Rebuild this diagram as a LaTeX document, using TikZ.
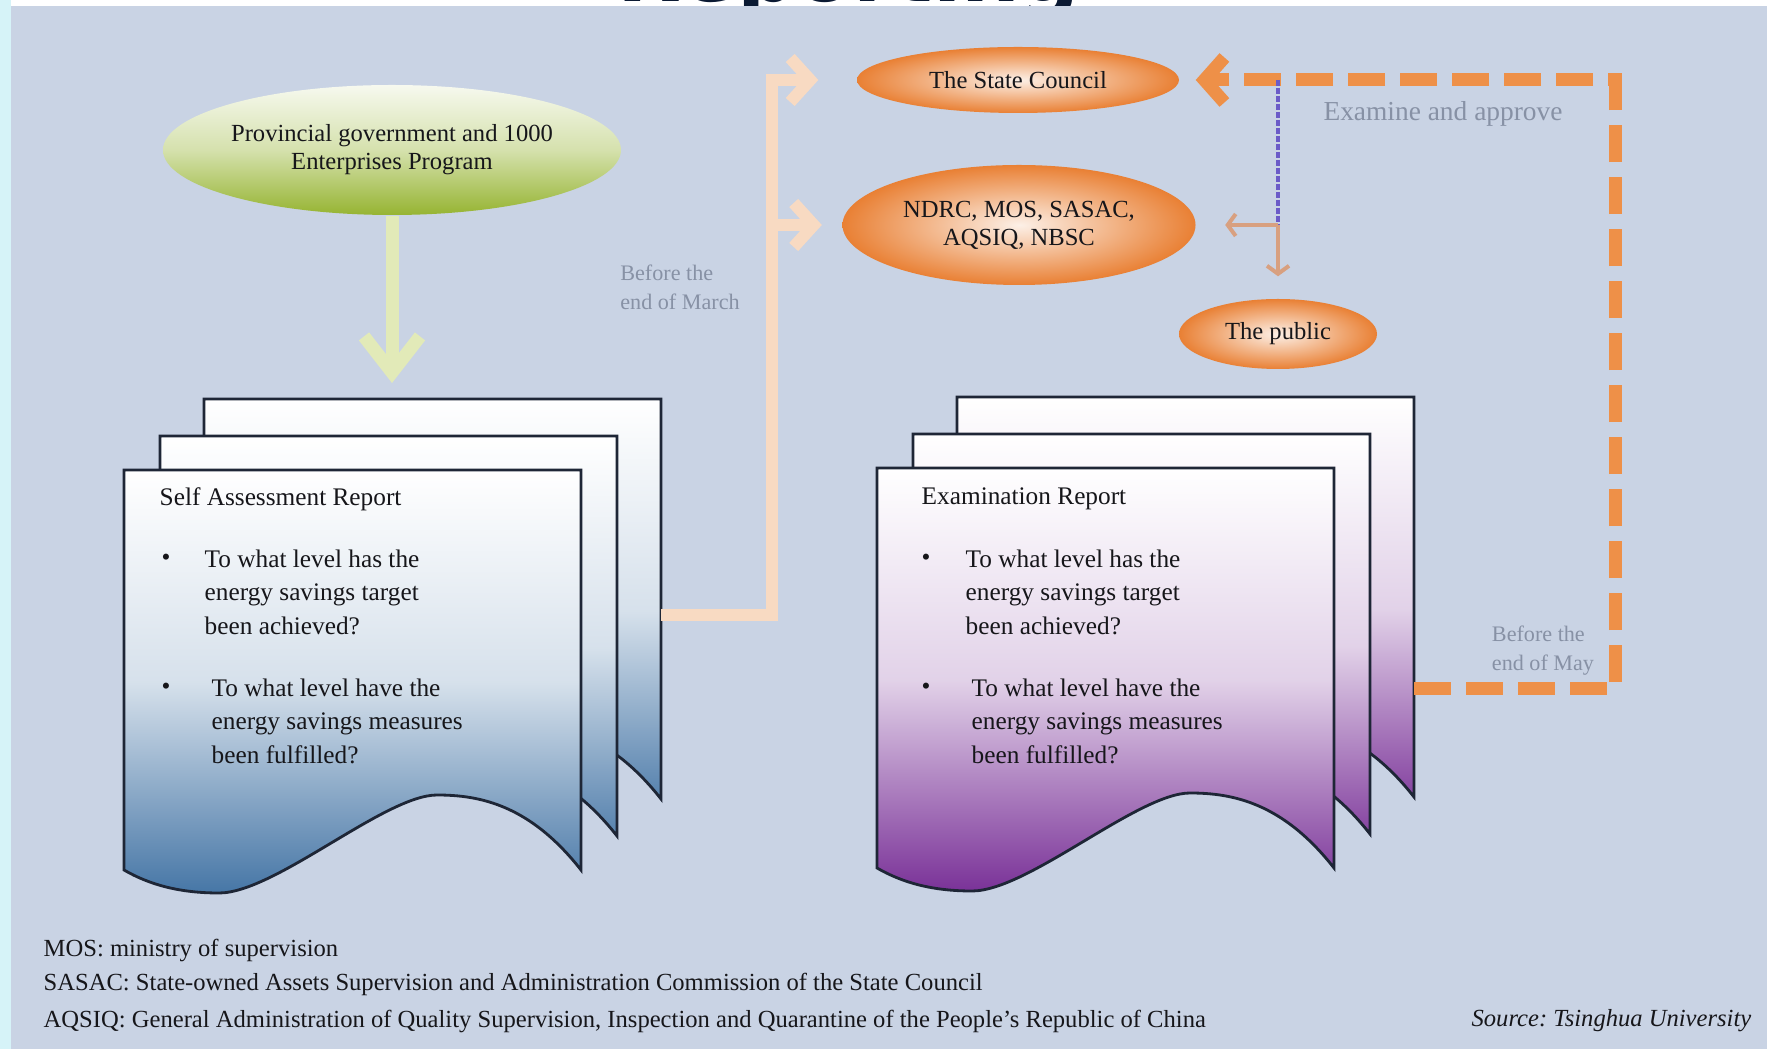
\documentclass[tikz,border=0pt]{standalone}
\usepackage{fontspec}
\setmainfont{Liberation Serif}
\newfontfamily\titlefont{DejaVu Sans}
\usetikzlibrary{arrows.meta,shapes.geometric}
\frenchspacing

\definecolor{panel}{RGB}{201,211,228}
\definecolor{edgecyan}{RGB}{214,243,248}
\definecolor{titleblue}{RGB}{11,26,51}
\definecolor{textdark}{RGB}{22,22,26}
\definecolor{labelgrey}{RGB}{135,145,165}
\definecolor{sheetline}{RGB}{30,38,54}
\definecolor{docblue}{RGB}{70,118,166}
\definecolor{docpurple}{RGB}{122,50,152}
\definecolor{ellorange}{RGB}{233,128,52}
\definecolor{ellgreen}{RGB}{150,180,50}
\definecolor{peach}{RGB}{248,218,194}
\definecolor{palegreen}{RGB}{226,234,184}
\definecolor{dashorange}{RGB}{238,144,72}
\definecolor{tan}{RGB}{216,160,128}
\definecolor{violetline}{RGB}{107,91,200}

\begin{document}
\begin{tikzpicture}[x=1cm,y=1cm,
    sheet/.style={draw=sheetline, line width=0.8pt},
    oval/.style={ellipse, inner sep=0pt, text=textdark, align=center, font=\fontsize{7}{8}\selectfont},
    orangeoval/.style={oval, inner color=ellorange!12!white, outer color=ellorange},
    bodytext/.style={inner sep=0pt, text=textdark, align=left, font=\fontsize{7.2}{9.6}\selectfont},
    greylabel/.style={inner sep=0pt, text=labelgrey, align=left},
    notetext/.style={inner sep=0pt, anchor=west, text=textdark, font=\fontsize{7}{8}\selectfont},
    peachline/.style={draw=peach, line width=0.12cm, -{Straight Barb[length=0.2cm,width=0.44cm]}},
    greenarrow/.style={draw=palegreen, line width=0.13cm, -{Straight Barb[length=0.36cm,width=0.56cm]}},
    orangedash/.style={draw=dashorange, line width=0.13cm, dash pattern=on 0.37cm off 0.15cm, -{Straight Barb[length=0.2cm,width=0.45cm]}},
    tanline/.style={draw=tan, line width=0.04cm, -{Straight Barb[length=0.08cm,width=0.22cm]}},
    purpleline/.style={draw=violetline, line width=0.035cm, dash pattern=on 0.06cm off 0.02cm}
  ]

  % background and page title
  \path[use as bounding box] (0,0) rectangle (17.67,-10.49);
  \fill[white] (0,0) rectangle (17.67,-10.49);
  \node[anchor=base west, inner sep=0pt, text=titleblue, font=\titlefont\bfseries\fontsize{23.5}{24}\selectfont] (title) at (6.17,-0.02) {Reporting};
  \fill[edgecyan] (0,0) rectangle (0.11,-10.49);
  \fill[panel] (0.11,-0.06) rectangle (17.67,-10.49);

  % report stacks
  \foreach \L/\T/\col in {1.24/-4.70/docblue, 8.77/-4.68/docpurple}
    \foreach \dx/\dy in {0.80/0.71, 0.36/0.34, 0/0}
      \draw[sheet, top color=white, bottom color=\col, middle color=\col!22!white, shift={(\L+\dx,\T+\dy)}]
        (0,0) -- (4.57,0) -- (4.57,-4.00)
        .. controls (4.06,-3.35) and (3.56,-3.25) .. (3.13,-3.25)
        .. controls (2.61,-3.25) and (1.51,-4.23) .. (0.95,-4.23)
        .. controls (0.56,-4.23) and (0.26,-4.15) .. (0,-4.00) -- cycle;

  \node[bodytext, anchor=west] (selfTitle) at (1.59,-4.99) {Self Assessment Report};
  \node[bodytext] (selfDotA) at (1.66,-5.60) {\textbullet};
  \node[bodytext, anchor=north west] (selfA) at (2.04,-5.49) {To what level has the\\energy savings target\\been achieved?};
  \node[bodytext] (selfDotB) at (1.66,-6.89) {\textbullet};
  \node[bodytext, anchor=north west] (selfB) at (2.11,-6.78) {To what level have the\\energy savings measures\\been fulfilled?};

  \node[bodytext, anchor=west] (examTitle) at (9.21,-4.99) {Examination Report};
  \node[bodytext] (examDotA) at (9.26,-5.60) {\textbullet};
  \node[bodytext, anchor=north west] (examA) at (9.65,-5.49) {To what level has the\\energy savings target\\been achieved?};
  \node[bodytext] (examDotB) at (9.26,-6.89) {\textbullet};
  \node[bodytext, anchor=north west] (examB) at (9.71,-6.78) {To what level have the\\energy savings measures\\been fulfilled?};

  % ovals
  \node[oval, minimum width=4.58cm, minimum height=1.30cm, top color=ellgreen!8!white, bottom color=ellgreen, middle color=ellgreen!40!white] (prov) at (3.92,-1.50) {Provincial government and 1000\\Enterprises Program};
  \node[orangeoval, minimum width=3.22cm, minimum height=0.66cm] (council) at (10.18,-0.80) {The State Council};
  \node[orangeoval, minimum width=3.53cm, minimum height=1.20cm] (ndrc) at (10.19,-2.25) {NDRC, MOS, SASAC,\\AQSIQ, NBSC};
  \node[orangeoval, minimum width=1.98cm, minimum height=0.70cm] (public) at (12.78,-3.34) {The public};

  \coordinate (selfTop) at (3.92,-3.83);
  \coordinate (selfOut) at (6.61,-6.15);
  \coordinate (turn) at (7.72,-6.15);
  \coordinate (examOut) at (14.14,-6.89);
  \coordinate (corner) at (16.15,-6.89);
  \coordinate (split) at (public.north |- ndrc.east);
  \coordinate (tap) at (split |- council.east);

  % connectors
  \draw[greenarrow] (prov.south) -- (selfTop);
  \draw[peachline, shorten >=0.38cm] (selfOut) -- (turn) |- (council.west);
  \draw[peachline, shorten >=0.20cm] (turn) |- (ndrc.west);
  \draw[orangedash, shorten >=0.16cm] (examOut) -- (corner) |- (council.east);
  \draw[purpleline] (tap) -- (split);
  \draw[tanline, shorten >=0.29cm] (split) -- (ndrc.east);
  \draw[tanline, shorten >=0.22cm] (split) -- (public.north);

  \node[greylabel, font=\fontsize{6.3}{8.3}\selectfont] (march) at (6.80,-2.87) {Before the\\end of March};
  \node[greylabel, font=\fontsize{6.3}{8.3}\selectfont] (may) at (15.43,-6.51) {Before the\\end of May};
  \node[greylabel, font=\fontsize{7.8}{9}\selectfont] (approve) at (14.43,-1.14) {Examine and approve};

  % notes
  \node[notetext] (mos) at (0.43,-9.50) {MOS: ministry of supervision};
  \node[notetext] (sasac) at (0.43,-9.84) {SASAC: State-owned Assets Supervision and Administration Commission of the State Council};
  \node[notetext] (aqsiq) at (0.43,-10.21) {AQSIQ: General Administration of Quality Supervision, Inspection and Quarantine of the People's Republic of China};
  \node[notetext, anchor=east, font=\fontsize{7}{8}\selectfont\itshape] (source) at (17.52,-10.21) {Source: Tsinghua University};

\end{tikzpicture}
\end{document}
